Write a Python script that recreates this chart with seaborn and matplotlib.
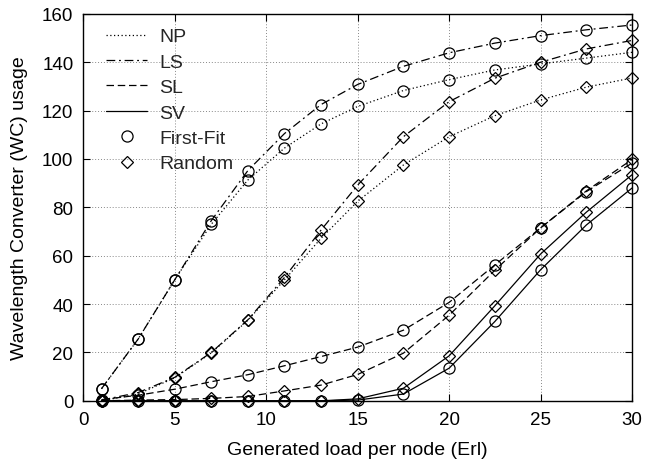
import matplotlib
matplotlib.use("Agg")
import matplotlib.pyplot as plt
import seaborn as sns
from matplotlib.lines import Line2D

# generated load per node (Erl)
load = [1, 3, 5, 7, 9, 11, 13, 15, 17.5, 20, 22.5, 25, 27.5, 30]

# WC usage, First-Fit
np_ff = [5, 25.5, 50, 73, 91.3, 104.5, 114.5, 121.7, 128.3, 132.8, 136.8, 139.3, 141.7, 144.1]
ls_ff = [5, 25.5, 50, 74.5, 95.2, 110.5, 122.5, 130.8, 138.3, 143.9, 147.9, 151, 153.4, 155.4]
sl_ff = [0.5, 2.3, 4.8, 7.9, 10.8, 14.5, 18.3, 22.2, 29.2, 40.7, 56.2, 71.5, 86.5, 98.3]
sv_ff = [0, 0, 0, 0, 0, 0, 0, 0.3, 2.8, 13.5, 32.8, 54.2, 72.7, 88]

# WC usage, Random
np_rd = [0, 2.8, 9.5, 19.8, 33.3, 50, 67.2, 82.5, 97.5, 109.2, 117.9, 124.4, 129.7, 133.5]
ls_rd = [0.3, 3.4, 9.7, 20, 33.5, 51, 70.6, 89.2, 109.2, 123.7, 133.4, 140, 145.5, 149]
sl_rd = [0, 0.3, 0.5, 1, 1.8, 4.1, 6.5, 10.9, 19.7, 35.4, 54, 71.5, 86.8, 99.8]
sv_rd = [0, 0, 0, 0, 0, 0, 0, 0.8, 5.2, 18.6, 39.3, 60.7, 78, 93.5]

schemes = ["NP", "LS", "SL", "SV"]
styles = {
    "NP": (0, (1, 2)),
    "LS": (0, (7, 3, 1.5, 3)),
    "SL": (0, (6, 3)),
    "SV": "-",
}
series = [
    ("NP", "o", np_ff), ("LS", "o", ls_ff), ("SL", "o", sl_ff), ("SV", "o", sv_ff),
    ("NP", "D", np_rd), ("LS", "D", ls_rd), ("SL", "D", sl_rd), ("SV", "D", sv_rd),
]

sns.set_theme(style="ticks")
plt.rcParams["font.family"] = ["Liberation Sans", "DejaVu Sans"]

fig = plt.figure(figsize=(6.45, 4.64), dpi=100)
ax = fig.add_axes([0.129, 0.134, 0.851, 0.834])

for scheme, mk, vals in series:
    sns.lineplot(x=load, y=vals, ax=ax, color="black", linewidth=0.9,
                 linestyle=styles[scheme], marker=mk,
                 markersize=8 if mk == "o" else 6.5,
                 markerfacecolor="none", markeredgecolor="black",
                 markeredgewidth=0.9, clip_on=False, zorder=3)

ax.set_xlim(0, 30)
ax.set_ylim(0, 160)
ax.set_xticks(range(0, 31, 5))
ax.set_yticks(range(0, 161, 20))
ax.grid(True, color="#888888", linestyle=(0, (1, 2)), linewidth=0.7)
ax.tick_params(direction="in", top=True, right=True, labelsize=13.5,
               length=5, width=0.8, colors="black", pad=7)
for sp in ax.spines.values():
    sp.set_color("black")
    sp.set_linewidth(1)
ax.set_xlabel("Generated load per node (Erl)", fontsize=14, color="black", labelpad=10)
ax.set_ylabel("Wavelength Converter (WC) usage", fontsize=14, color="black", labelpad=10)

handles = [Line2D([], [], color="black", linewidth=0.9, linestyle=styles[s]) for s in schemes]
handles += [
    Line2D([], [], color="black", linestyle="none", marker="o", markersize=8,
           markerfacecolor="none", markeredgewidth=0.9),
    Line2D([], [], color="black", linestyle="none", marker="D", markersize=6.5,
           markerfacecolor="none", markeredgewidth=0.9),
]
ax.legend(handles, schemes + ["First-Fit", "Random"], loc="upper left",
          frameon=False, fontsize=14, handlelength=2.1, handletextpad=0.62,
          labelspacing=0.4, borderaxespad=0, borderpad=0,
          bbox_to_anchor=(0.042, 0.964))

fig.savefig("out.png", dpi=100)
